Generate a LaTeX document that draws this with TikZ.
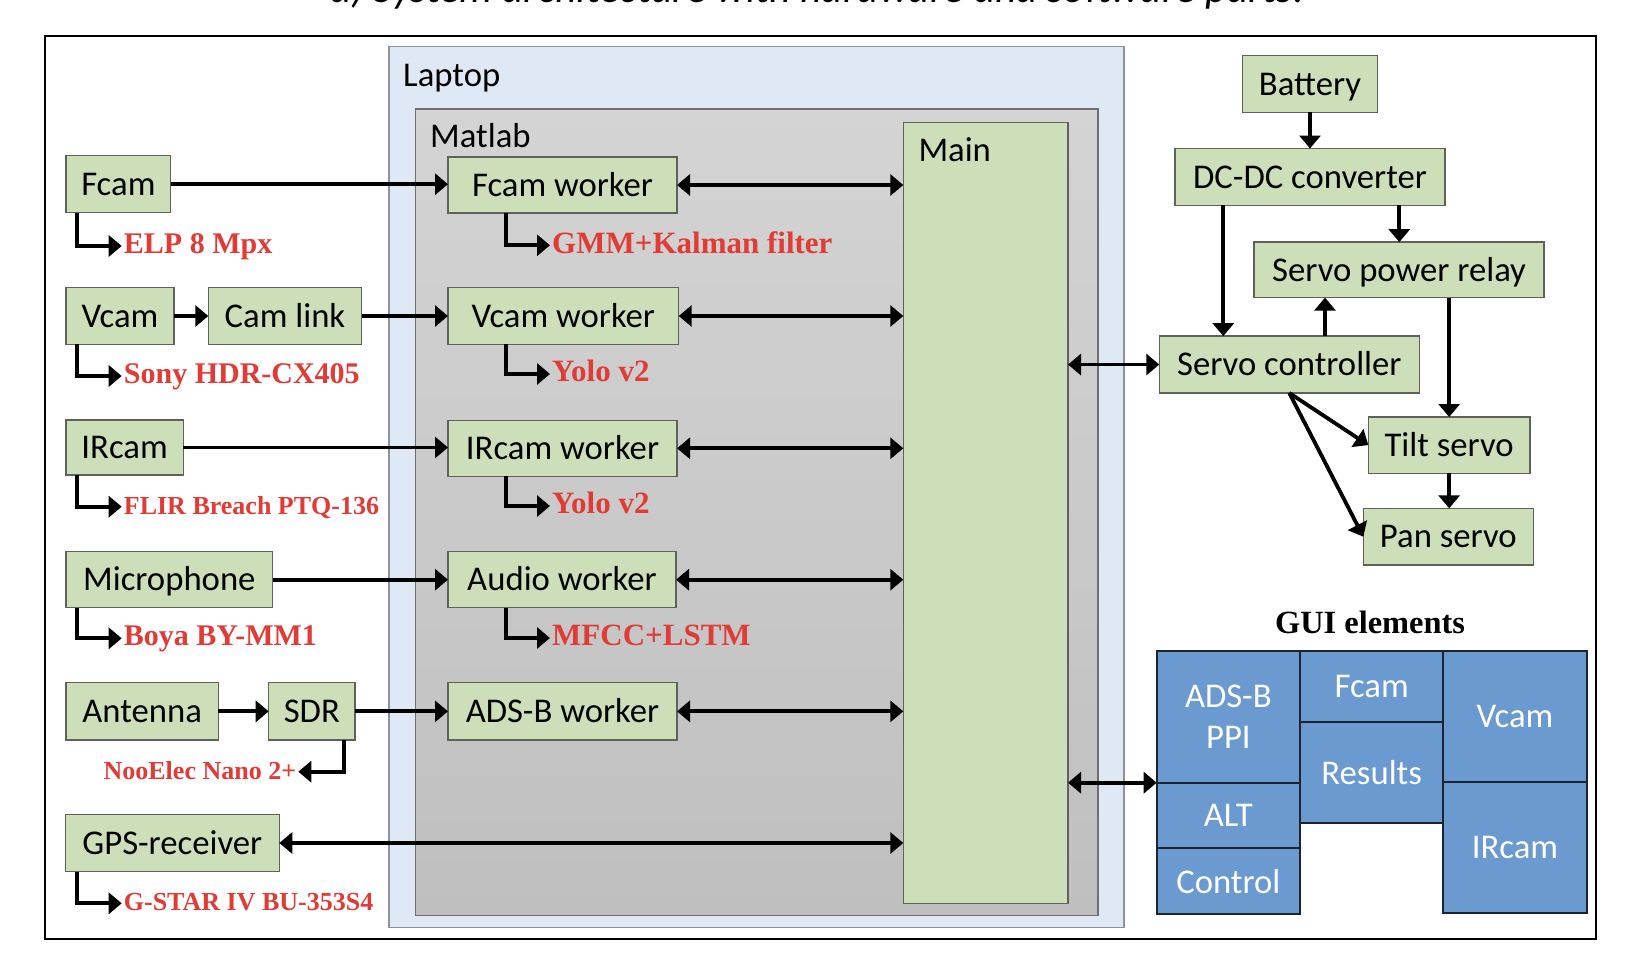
\documentclass[tikz,border=0pt]{standalone}
\usepackage{fontspec}
\setmainfont{Carlito}
\newfontfamily\tnr{Liberation Serif}
\usetikzlibrary{arrows.meta,calc}
\definecolor{gfill}{HTML}{CCDFB9}
\definecolor{gborder}{HTML}{5E625A}
\definecolor{lapfill}{HTML}{DFE9F5}
\definecolor{lapborder}{HTML}{8C939C}
\definecolor{mattop}{HTML}{D4D4D4}
\definecolor{matbot}{HTML}{BFBFBF}
\definecolor{matborder}{HTML}{6E6E6E}
\definecolor{ublue}{HTML}{6A9AD0}
\definecolor{ublueborder}{HTML}{1C2430}
\definecolor{redc}{HTML}{E03B35}
\newcommand{\bx}[7]{\node[#1, minimum width={(#5-#3)*1pt}, minimum height={(#6-#4)*1pt}] (#2) at ({(#3+#5)/2},{(#4+#6)/2}) {#7};}
\tikzset{
 gbox/.style={draw=gborder, fill=gfill, line width=1.3pt, inner sep=0pt, outer sep=0pt, text height=22.5pt, text depth=0pt, font=\fontsize{34.7}{40}\selectfont},
 ubox/.style={draw=ublueborder, fill=ublue, line width=2.2pt, inner sep=0pt, outer sep=0pt, text=white, align=center, font=\fontsize{34.7}{41.5}\selectfont},
 arr/.style={line width=3.8pt, line join=miter, -{Triangle[length=13pt,width=21pt]}},
 darr/.style={line width=3.8pt, {Triangle[length=13pt,width=21pt]}-{Triangle[length=13pt,width=21pt]}},
 redlbl/.style={text=redc, font=\tnr\bfseries\fontsize{30}{34}\selectfont, inner xsep=2pt, inner ysep=0pt, text height=15pt, text depth=0pt},
 redsmall/.style={redlbl, font=\tnr\bfseries\fontsize{26}{30}\selectfont, text height=15pt},
 redbig/.style={redlbl, font=\tnr\bfseries\fontsize{31}{35}\selectfont, text height=15.5pt},
 plainlbl/.style={anchor=base west, inner sep=0pt, font=\fontsize{34.7}{40}\selectfont},
}
\begin{document}
\begin{tikzpicture}[x=1pt,y=-1pt]
\useasboundingbox (0,0) rectangle (1638,974);
\fill[white] (0,0) rectangle (1638,974);
% caption (clipped at top)
\node[anchor=base, inner sep=0pt, font=\itshape\fontsize{41.7}{48}\selectfont] (cap) at (817,3) {a) System architecture with hardware and software parts.};
% outer frame
\draw[line width=2.5pt] (45,36) rectangle (1596,939);
% containers
\bx{draw=lapborder, fill=lapfill, line width=1.5pt, inner sep=0pt}{laptop}{389}{46.5}{1124}{927.7}{}
\node[plainlbl] (laptoplbl) at (403,86) {Laptop};
\bx{draw=matborder, top color=mattop, bottom color=matbot, line width=1.5pt, inner sep=0pt}{matlab}{415.5}{109}{1098}{915.7}{}
\node[plainlbl] (matlablbl) at (430,147.7) {Matlab};
\bx{gbox}{main}{903.3}{122.7}{1068}{903.3}{}
\node[plainlbl] (mainlbl) at (918.3,161.7) {Main};
% left devices
\bx{gbox}{fcam}{66}{155.7}{170.7}{212.7}{Fcam}
\bx{gbox}{vcam}{66}{287.7}{174}{344.3}{Vcam}
\bx{gbox}{camlink}{208.3}{287.7}{361.7}{344.3}{Cam link}
\bx{gbox}{ircam}{66}{420}{183.3}{475}{IRcam}
\bx{gbox}{mic}{66}{551.7}{272.7}{607.7}{Microphone}
\bx{gbox}{antenna}{66}{682.7}{218.3}{740}{Antenna}
\bx{gbox}{sdr}{268.7}{682.7}{355}{740}{SDR}
\bx{gbox}{gps}{65.3}{814.3}{279.3}{871.7}{GPS-receiver}
% workers
\bx{gbox}{fcamw}{448}{157}{677}{213}{Fcam worker}
\bx{gbox}{vcamw}{448}{287.7}{678.7}{344.3}{Vcam worker}
\bx{gbox}{ircamw}{448}{420.3}{677}{476.3}{IRcam worker}
\bx{gbox}{audiow}{448}{551.7}{676}{607.7}{Audio worker}
\bx{gbox}{adsbw}{448}{682.7}{677}{740}{ADS-B worker}
% servo side
\bx{gbox}{bat}{1242.7}{55.5}{1377.3}{112.3}{Battery}
\bx{gbox}{dcdc}{1175}{148.5}{1445}{205.3}{DC-DC converter}
\bx{gbox}{relay}{1254}{242.1}{1544}{297.6}{Servo power relay}
\bx{gbox}{sctrl}{1159.3}{336.1}{1419.3}{393}{Servo controller}
\bx{gbox}{tilt}{1368.3}{417}{1530}{473.2}{Tilt servo}
\bx{gbox}{pan}{1363.3}{508.3}{1533.3}{565.1}{Pan servo}
% GUI
\node[anchor=base, inner sep=0pt, font=\tnr\bfseries\fontsize{32.4}{36}\selectfont] (guititle) at (1370,633.3) {GUI elements};
\bx{ubox}{adsbg}{1156.7}{650.7}{1300}{782.7}{ADS-B\\PPI}
\bx{ubox}{altg}{1156.7}{782.7}{1300}{848.3}{ALT}
\bx{ubox}{controlg}{1156.7}{848.3}{1300}{914}{Control}
\bx{ubox}{fcamg}{1300}{650.7}{1443.3}{721.7}{Fcam}
\bx{ubox}{resultsg}{1300}{721.7}{1443.3}{823.3}{Results}
\bx{ubox}{vcamg}{1443.3}{650.7}{1586.7}{781.7}{Vcam}
\bx{ubox}{ircamg}{1443.3}{781.7}{1586.7}{913.3}{IRcam}
% red labels (left)
\node[redlbl, anchor=west] (elp) at (121.7,246) {ELP 8 Mpx};
\node[redlbl, anchor=west] (sony) at (121.7,376) {Sony HDR-CX405};
\node[redsmall, anchor=west] (flir) at (121.7,506.7) {FLIR Breach PTQ-136};
\node[redlbl, anchor=west] (boya) at (121.7,638.3) {Boya BY-MM1};
\node[redsmall, anchor=east] (nooe) at (298.3,771.7) {NooElec Nano 2+};
\node[redsmall, anchor=west] (gstar) at (121.7,903.3) {G-STAR IV BU-353S4};
% red labels (workers)
\node[redbig, anchor=west] (gmm) at (550,245.3) {GMM+Kalman filter};
\node[redbig, anchor=west] (yolo1) at (550,374) {Yolo v2};
\node[redbig, anchor=west] (yolo2) at (550,506) {Yolo v2};
\node[redbig, anchor=west] (mfcc) at (550,638) {MFCC+LSTM};
% label connectors
\draw[arr] ([xshift=10.7pt]fcam.south west) |- (elp.west);
\draw[arr] ([xshift=10.7pt]vcam.south west) |- (sony.west);
\draw[arr] ([xshift=10.7pt]ircam.south west) |- (flir.west);
\draw[arr] ([xshift=10.7pt]mic.south west) |- (boya.west);
\draw[arr] ([xshift=-11pt]sdr.south east) |- (nooe.east);
\draw[arr] ([xshift=11.4pt]gps.south west) |- (gstar.west);
\draw[arr] ([xshift=58pt]fcamw.south west) |- (gmm.west);
\draw[arr] ([xshift=58pt]vcamw.south west) |- (yolo1.west);
\draw[arr] ([xshift=58pt]ircamw.south west) |- (yolo2.west);
\draw[arr] ([xshift=58pt]audiow.south west) |- (mfcc.west);
% inputs to workers
\draw[arr] (fcam.east) -- (fcamw.west |- fcam.east);
\draw[arr] (vcam.east) -- (camlink.west);
\draw[arr] (camlink.east) -- (vcamw.west |- camlink.east);
\draw[arr] (ircam.east) -- (ircamw.west |- ircam.east);
\draw[arr] (mic.east) -- (audiow.west |- mic.east);
\draw[arr] (antenna.east) -- (sdr.west);
\draw[arr] (sdr.east) -- (adsbw.west |- sdr.east);
% workers to main
\draw[darr] (fcamw.east) -- (main.west |- fcamw.east);
\draw[darr] (vcamw.east) -- (main.west |- vcamw.east);
\draw[darr] (ircamw.east) -- (main.west |- ircamw.east);
\draw[darr] (audiow.east) -- (main.west |- audiow.east);
\draw[darr] (adsbw.east) -- (main.west |- adsbw.east);
\draw[darr] (gps.east) -- (main.west |- gps.east);
% main to right side
\draw[darr] (main.east |- sctrl.west) -- (sctrl.west);
\draw[darr] (main.east |- adsbg.south west) -- (adsbg.south west);
% servo connectors
\draw[arr] (bat.south) -- (bat.south |- dcdc.north);
\coordinate (d1) at ([xshift=224.3pt]dcdc.south west);
\draw[arr] (d1) -- (d1 |- relay.north);
\coordinate (d2) at ([xshift=48.3pt]dcdc.south west);
\draw[arr] (d2) -- (d2 |- sctrl.north);
\coordinate (c1) at ([xshift=165.7pt]sctrl.north west);
\draw[arr] (c1) -- (c1 |- relay.south);
\draw[arr] (tilt.north |- relay.south) -- (tilt.north);
\draw[arr] (tilt.south) -- (tilt.south |- pan.north);
\coordinate (c2) at ([xshift=130pt]sctrl.south west);
\draw[arr] (c2) -- (tilt.west);
\draw[arr] (c2) -- (pan.west);
\end{tikzpicture}
\end{document}
